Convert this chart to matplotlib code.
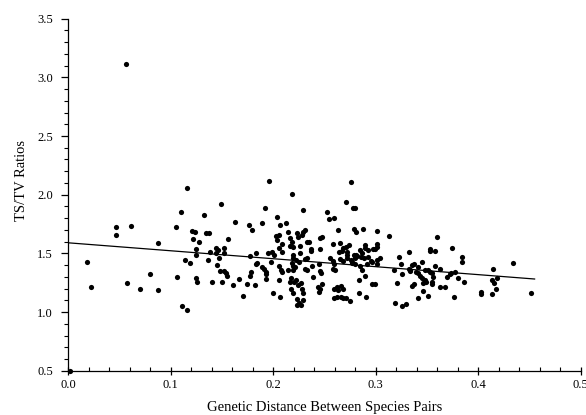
import matplotlib
matplotlib.use("Agg")
import matplotlib.pyplot as plt
from matplotlib.ticker import MultipleLocator, FormatStrFormatter
import numpy as np

plt.rcParams['font.family'] = ['Liberation Serif', 'DejaVu Serif']

pairs = [
(0.002,0.50),(0.0185,1.43),(0.022,1.216),(0.056,3.11),(0.047,1.725),(0.047,1.66),(0.061,1.73),
(0.057,1.25),(0.070,1.20),(0.080,1.32),(0.0875,1.19),(0.088,1.59),(0.105,1.725),(0.106,1.30),
(0.110,1.85),(0.111,1.05),(0.116,1.02),(0.116,2.06),(0.114,1.44),(0.119,1.42),(0.121,1.69),
(0.124,1.68),(0.122,1.62),(0.128,1.60),(0.125,1.54),(0.125,1.49),(0.1245,1.29),(0.126,1.26),
(0.132,1.83),(0.134,1.67),(0.137,1.67),(0.136,1.44),(0.138,1.51),(0.140,1.26),(0.144,1.55),
(0.146,1.53),(0.1445,1.50),(0.147,1.46),(0.145,1.40),(0.148,1.35),(0.149,1.92),(0.150,1.26),
(0.152,1.55),(0.152,1.50),(0.152,1.35),(0.1535,1.33),(0.155,1.31),(0.156,1.62),(0.161,1.23),
(0.163,1.77),(0.1665,1.28),(0.170,1.14),(0.174,1.24),(0.176,1.74),(0.177,1.48),(0.177,1.305),
(0.1785,1.345),(0.1795,1.70),(0.182,1.23),(0.183,1.50),(0.1835,1.41),(0.1845,1.42),(0.189,1.76),
(0.189,1.38),(0.191,1.37),(0.1925,1.345),(0.1925,1.32),(0.193,1.28),(0.192,1.89),(0.195,1.50),
(0.196,2.12),(0.198,1.43),(0.199,1.51),(0.2005,1.49),(0.200,1.165),(0.203,1.65),(0.2035,1.61),
(0.204,1.81),(0.2055,1.66),(0.2055,1.55),(0.2055,1.395),(0.2055,1.27),(0.207,1.74),(0.2075,1.36),
(0.207,1.13),(0.209,1.58),(0.209,1.51),(0.209,1.345),(0.212,1.76),(0.214,1.68),(0.214,1.36),
(0.216,1.63),(0.216,1.56),(0.216,1.26),(0.217,1.20),(0.2185,2.01),(0.2185,1.60),(0.219,1.555),
(0.219,1.49),(0.219,1.395),(0.2195,1.36),(0.2195,1.16),(0.2195,1.46),(0.222,1.44),(0.218,1.415),
(0.2215,1.38),(0.217,1.29),(0.220,1.26),(0.222,1.27),(0.2235,1.67),(0.224,1.64),(0.2245,1.23),
(0.225,1.43),(0.226,1.56),(0.2265,1.50),(0.2275,1.25),(0.228,1.20),(0.229,1.16),(0.2235,1.11),
(0.2255,1.08),(0.229,1.10),(0.2235,1.06),(0.2275,1.06),(0.229,1.685),(0.231,1.70),(0.2285,1.66),
(0.2295,1.87),(0.2305,1.45),(0.2325,1.46),(0.231,1.37),(0.2325,1.36),(0.2325,1.60),(0.235,1.60),
(0.2365,1.54),(0.237,1.52),(0.2375,1.395),(0.2385,1.30),(0.244,1.215),(0.245,1.17),(0.246,1.20),
(0.248,1.24),(0.245,1.41),(0.246,1.35),(0.247,1.33),(0.246,1.63),(0.248,1.64),(0.246,1.54),
(0.2525,1.85),(0.254,1.79),(0.255,1.46),(0.258,1.435),(0.259,1.41),(0.2585,1.37),(0.260,1.36),
(0.2585,1.58),(0.259,1.80),(0.259,1.20),(0.259,1.12),(0.2625,1.21),(0.2625,1.13),(0.2635,1.19),
(0.263,1.70),(0.264,1.51),(0.265,1.59),(0.265,1.45),(0.266,1.225),(0.266,1.13),(0.267,1.52),
(0.268,1.545),(0.268,1.435),(0.268,1.20),(0.268,1.12),(0.2705,1.12),(0.271,1.94),(0.271,1.555),
(0.2715,1.51),(0.272,1.49),(0.272,1.46),(0.2735,1.57),(0.275,1.09),(0.2755,2.11),(0.2755,1.44),
(0.2765,1.43),(0.277,1.415),(0.278,1.885),(0.280,1.885),(0.279,1.71),(0.281,1.68),(0.279,1.49),
(0.281,1.49),(0.2795,1.46),(0.2815,1.48),(0.280,1.41),(0.2835,1.27),(0.2835,1.16),(0.2845,1.525),
(0.285,1.395),(0.286,1.47),(0.287,1.50),(0.2865,1.355),(0.288,1.71),(0.2885,1.46),(0.290,1.57),
(0.290,1.55),(0.290,1.31),(0.2905,1.13),(0.291,1.41),(0.292,1.53),(0.292,1.47),(0.295,1.435),
(0.296,1.425),(0.296,1.24),(0.297,1.535),(0.2995,1.535),(0.299,1.24),(0.301,1.69),(0.3015,1.58),
(0.301,1.555),(0.3015,1.445),(0.304,1.46),(0.3015,1.41),(0.313,1.65),(0.318,1.355),(0.319,1.075),
(0.321,1.25),(0.3225,1.47),(0.3245,1.41),(0.3255,1.32),(0.326,1.05),(0.3295,1.065),(0.332,1.37),
(0.3335,1.35),(0.3325,1.51),(0.333,1.36),(0.335,1.40),(0.3375,1.41),(0.3355,1.22),(0.337,1.235),
(0.3395,1.34),(0.341,1.38),(0.3415,1.33),(0.3415,1.12),(0.343,1.31),(0.345,1.425),(0.3455,1.29),
(0.3465,1.25),(0.3465,1.18),(0.348,1.355),(0.348,1.275),(0.349,1.26),(0.3505,1.355),(0.3505,1.14),
(0.3525,1.34),(0.3525,1.52),(0.353,1.535),(0.3545,1.33),(0.3545,1.26),(0.355,1.235),(0.356,1.30),
(0.358,1.52),(0.358,1.395),(0.360,1.64),(0.363,1.37),(0.363,1.21),(0.368,1.215),(0.370,1.30),
(0.372,1.32),(0.3735,1.33),(0.374,1.545),(0.3765,1.13),(0.377,1.34),(0.380,1.29),(0.3845,1.47),
(0.3845,1.43),(0.386,1.26),(0.403,1.17),(0.403,1.155),(0.413,1.275),(0.4135,1.15),(0.4145,1.37),
(0.4155,1.25),(0.417,1.20),(0.418,1.29),(0.434,1.415),(0.451,1.16),
]
genetic_distance = [p[0] for p in pairs]
ts_tv_ratio = [p[1] for p in pairs]

fit_intercept = 1.59
fit_slope = -0.678
fit_x = [0.0, 0.455]

fig = plt.figure(figsize=(5.86, 4.15), dpi=100)
ax = fig.add_axes([0.1165, 0.1067, 0.8745, 0.8483])

ax.scatter(genetic_distance, ts_tv_ratio, s=14, c='black', linewidths=0, zorder=3, clip_on=False)
fx = np.array(fit_x)
ax.plot(fx, fit_intercept + fit_slope * fx, color='black', lw=0.9)

ax.set_xlim(0, 0.5)
ax.set_ylim(0.5, 3.5)
ax.xaxis.set_major_locator(MultipleLocator(0.1))
ax.xaxis.set_minor_locator(MultipleLocator(0.02))
ax.yaxis.set_major_locator(MultipleLocator(0.5))
ax.yaxis.set_minor_locator(MultipleLocator(0.1))
ax.xaxis.set_major_formatter(FormatStrFormatter('%.1f'))
ax.yaxis.set_major_formatter(FormatStrFormatter('%.1f'))

for s in ['top', 'right']:
    ax.spines[s].set_visible(False)
for s in ['left', 'bottom']:
    ax.spines[s].set_linewidth(0.9)

ax.tick_params(axis='x', which='major', direction='inout', length=6, width=0.9, labelsize=9, pad=3)
ax.tick_params(axis='x', which='minor', direction='in', length=3, width=0.8)
ax.tick_params(axis='y', which='major', direction='out', length=5, width=0.9, labelsize=9, pad=6)
ax.tick_params(axis='y', which='minor', direction='out', length=3, width=0.8)

ax.set_xlabel('Genetic Distance Between Species Pairs', fontsize=10.5, labelpad=7)
ax.set_ylabel('TS/TV Ratios', fontsize=10.5, labelpad=7, y=0.54)

fig.savefig('out.png', dpi=100)
